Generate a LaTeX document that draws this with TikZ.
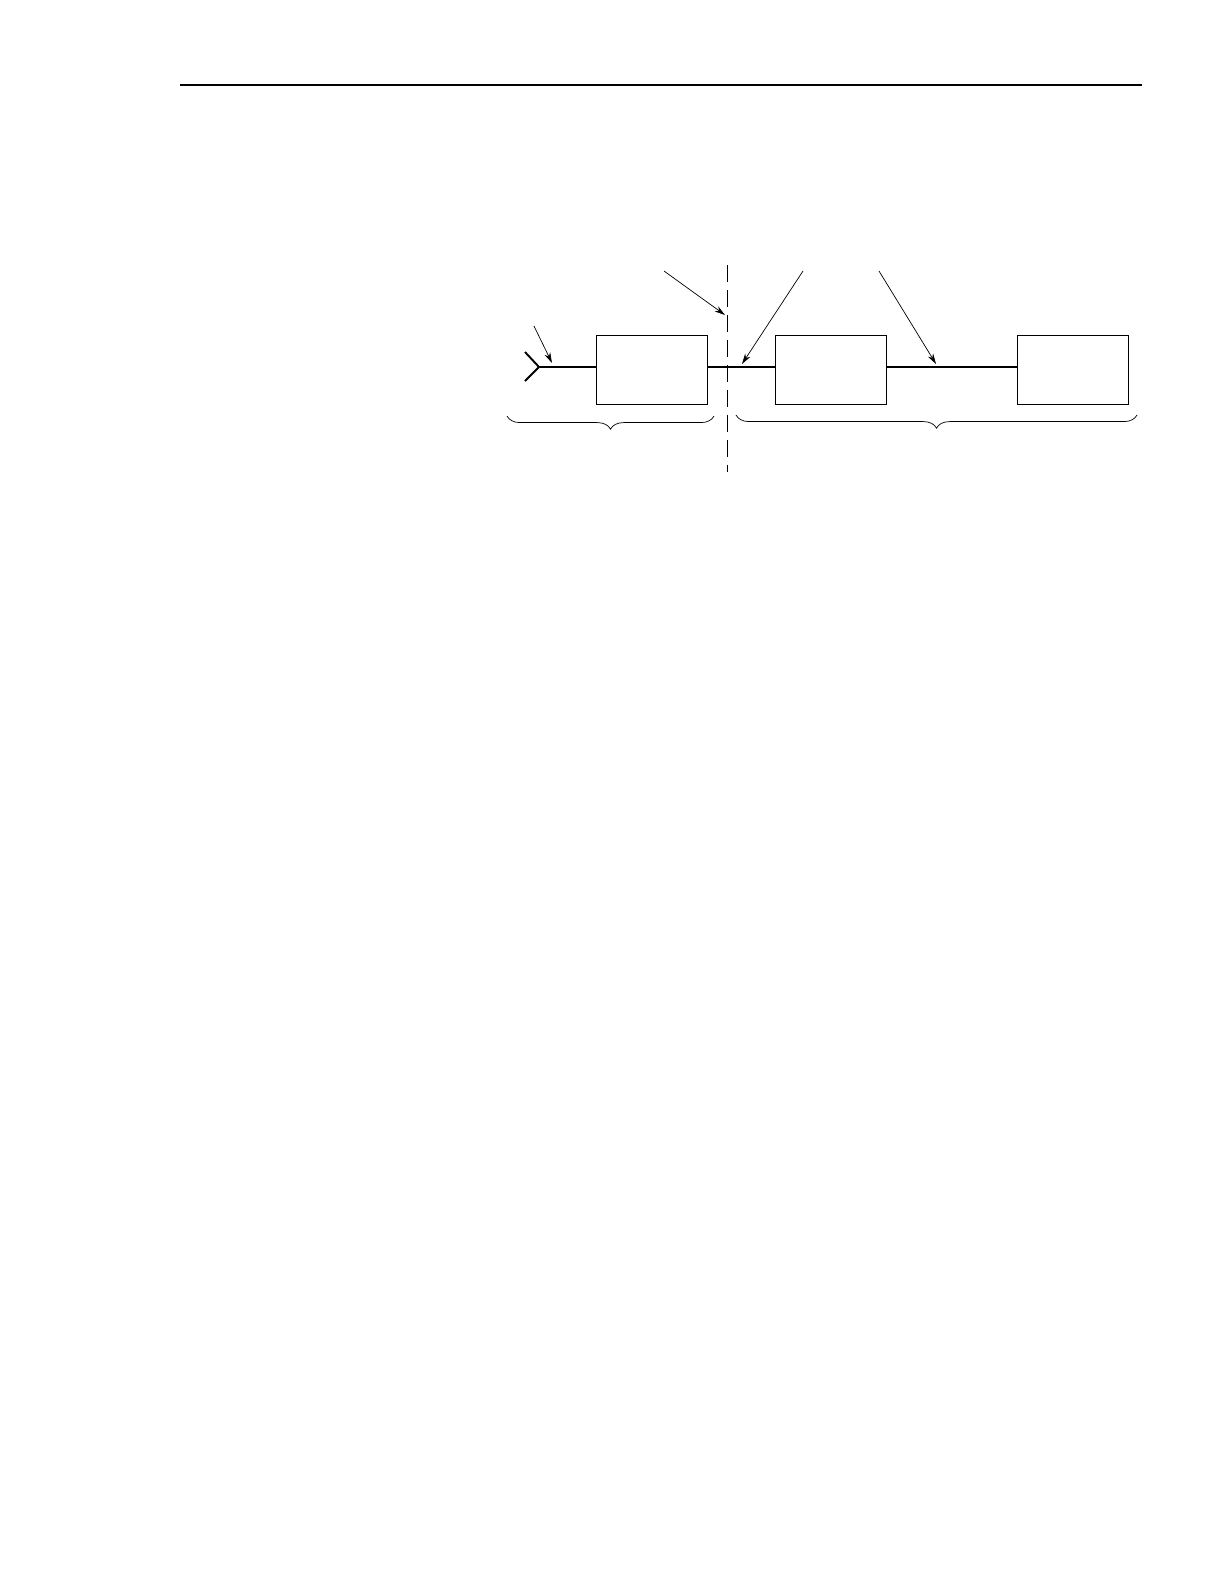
\documentclass[tikz,border=0pt]{standalone}
\usepackage{amsmath, amssymb}
\usetikzlibrary{arrows.meta, decorations.pathreplacing}

\begin{document}
\begin{tikzpicture}
            [x=0.02cm, y=-0.02cm, >={Stealth[length=6pt, width=3.5pt]},
             blockbox/.style={draw=black, line width=0.55pt, minimum width=2.22cm, minimum height=1.38cm, inner sep=0pt},
             wire/.style={line width=1.1pt},
             pointer/.style={->, line width=0.4pt},
             bracelow/.style={decorate, decoration={brace, mirror, amplitude=7.5pt}, line width=0.4pt}]
            \useasboundingbox (0, 0) rectangle (1212, 1570);

            % rule at the top of the page
            \draw[line width=0.7pt] (180, 85) -- (1142, 85);

            % blocks
            \node[blockbox] (b1) at (651.5, 369.5) {};
            \node[blockbox] (b2) at (830.5, 369.5) {};
            \node[blockbox] (b3) at (1072.5, 369.5) {};

            % antenna
            \coordinate (tip) at (539, 367);
            \coordinate (armup) at (525, 352);
            \coordinate (armdown) at (525, 381);
            \draw[wire] (armup) -- (tip) -- (armdown);

            % signal line
            \draw[wire] (tip) -- (tip -| b1.west);
            \draw[wire] (b1.east |- tip) -- (b2.west |- tip);
            \draw[wire] (b2.east |- tip) -- (b3.west |- tip);

            % boundary
            \coordinate (cuttop) at (727, 265);
            \coordinate (cutbot) at (727, 472);
            \draw[line width=0.5pt, dash pattern=on 0.34cm off 0.16cm] (cuttop) -- (cutbot);

            % pointers
            \coordinate (p1) at (534, 326);
            \coordinate (p2) at (664, 271);
            \coordinate (p3) at (803, 271);
            \coordinate (p4) at (879, 271);
            \draw[pointer] (p1) -- (552, 363);
            \draw[pointer] (p2) -- (725, 315);
            \draw[pointer] (p3) -- (742, 364);
            \draw[pointer] (p4) -- (936, 364);

            % braces
            \coordinate (l1) at (507, 416);
            \coordinate (r1) at (714, 416);
            \coordinate (l2) at (736, 415);
            \coordinate (r2) at (1137, 415);
            \draw[bracelow] (l1) -- (r1);
            \draw[bracelow] (l2) -- (r2);
        \end{tikzpicture}
\end{document}
